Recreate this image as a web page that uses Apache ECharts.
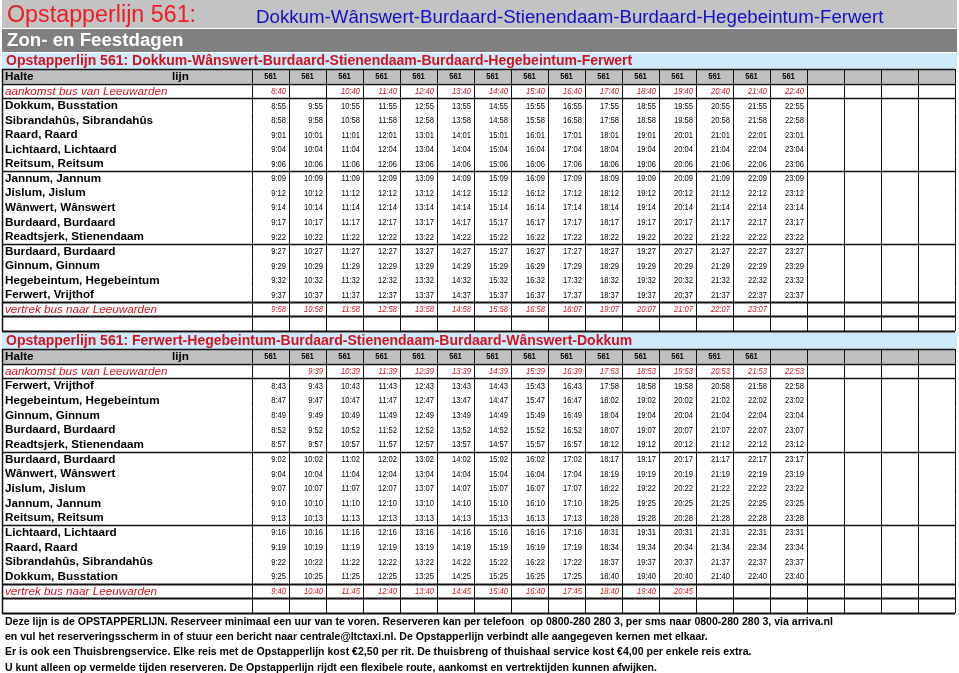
<!DOCTYPE html>
<html><head><meta charset="utf-8">
<script src="https://cdn.jsdelivr.net/npm/echarts@6/dist/echarts.min.js"></script>
<style>html,body{margin:0;padding:0;background:#fff}#c{width:959px;height:673px}</style>
</head><body><div id="c"></div>
<script>
// ---------- texts ----------
const mainTitle = 'Opstapperlijn 561:';
const mainRoute = 'Dokkum-Wânswert-Burdaard-Stienendaam-Burdaard-Hegebeintum-Ferwert';
const dayLabel = 'Zon- en Feestdagen';
const tableATitle = 'Opstapperlijn 561: Dokkum-Wânswert-Burdaard-Stienendaam-Burdaard-Hegebeintum-Ferwert';
const tableBTitle = 'Opstapperlijn 561: Ferwert-Hegebeintum-Burdaard-Stienendaam-Burdaard-Wânswert-Dokkum';
const headHalte = 'Halte';
const headLijn = 'lijn';
const arrivalLabel = 'aankomst bus van Leeuwarden';
const departLabel = 'vertrek bus naar Leeuwarden';
const footerLines = [
  'Deze lijn is de OPSTAPPERLIJN. Reserveer minimaal een uur van te voren. Reserveren kan per telefoon  op 0800-280 280 3, per sms naar 0800-280 280 3, via arriva.nl',
  'en vul het reserveringsscherm in of stuur een bericht naar centrale@ltctaxi.nl. De Opstapperlijn verbindt alle aangegeven kernen met elkaar.',
  'Er is ook een Thuisbrengservice. Elke reis met de Opstapperlijn kost €2,50 per rit. De thuisbreng of thuishaal service kost €4,00 per enkele reis extra.',
  'U kunt alleen op vermelde tijden reserveren. De Opstapperlijn rijdt een flexibele route, aankomst en vertrektijden kunnen afwijken.'
];

// ---------- columns (19 trip slots) ----------
const columnSlots = ['k1','k2','k3','k4','k5','k6','k7','k8','k9','k10','k11','k12','k13','k14','k15','k16','k17','k18','k19'];

// ---------- table A: Dokkum -> Ferwert ----------
const aStops = ['Dokkum, Busstation','Sibrandahûs, Sibrandahûs','Raard, Raard','Lichtaard, Lichtaard','Reitsum, Reitsum','Jannum, Jannum','Jislum, Jislum','Wânwert, Wânswert','Burdaard, Burdaard','Readtsjerk, Stienendaam','Burdaard, Burdaard','Ginnum, Ginnum','Hegebeintum, Hegebeintum','Ferwert, Vrijthof'];
const a_lijn = ['561','561','561','561','561','561','561','561','561','561','561','561','561','561','561'];
const a_aankomst = ['8:40','','10:40','11:40','12:40','13:40','14:40','15:40','16:40','17:40','18:40','19:40','20:40','21:40','22:40'];
const a_dokkum = ['8:55','9:55','10:55','11:55','12:55','13:55','14:55','15:55','16:55','17:55','18:55','19:55','20:55','21:55','22:55'];
const a_sibrandahus = ['8:58','9:58','10:58','11:58','12:58','13:58','14:58','15:58','16:58','17:58','18:58','19:58','20:58','21:58','22:58'];
const a_raard = ['9:01','10:01','11:01','12:01','13:01','14:01','15:01','16:01','17:01','18:01','19:01','20:01','21:01','22:01','23:01'];
const a_lichtaard = ['9:04','10:04','11:04','12:04','13:04','14:04','15:04','16:04','17:04','18:04','19:04','20:04','21:04','22:04','23:04'];
const a_reitsum = ['9:06','10:06','11:06','12:06','13:06','14:06','15:06','16:06','17:06','18:06','19:06','20:06','21:06','22:06','23:06'];
const a_jannum = ['9:09','10:09','11:09','12:09','13:09','14:09','15:09','16:09','17:09','18:09','19:09','20:09','21:09','22:09','23:09'];
const a_jislum = ['9:12','10:12','11:12','12:12','13:12','14:12','15:12','16:12','17:12','18:12','19:12','20:12','21:12','22:12','23:12'];
const a_wanswert = ['9:14','10:14','11:14','12:14','13:14','14:14','15:14','16:14','17:14','18:14','19:14','20:14','21:14','22:14','23:14'];
const a_burdaard1 = ['9:17','10:17','11:17','12:17','13:17','14:17','15:17','16:17','17:17','18:17','19:17','20:17','21:17','22:17','23:17'];
const a_stienendaam = ['9:22','10:22','11:22','12:22','13:22','14:22','15:22','16:22','17:22','18:22','19:22','20:22','21:22','22:22','23:22'];
const a_burdaard2 = ['9:27','10:27','11:27','12:27','13:27','14:27','15:27','16:27','17:27','18:27','19:27','20:27','21:27','22:27','23:27'];
const a_ginnum = ['9:29','10:29','11:29','12:29','13:29','14:29','15:29','16:29','17:29','18:29','19:29','20:29','21:29','22:29','23:29'];
const a_hegebeintum = ['9:32','10:32','11:32','12:32','13:32','14:32','15:32','16:32','17:32','18:32','19:32','20:32','21:32','22:32','23:32'];
const a_ferwert = ['9:37','10:37','11:37','12:37','13:37','14:37','15:37','16:37','17:37','18:37','19:37','20:37','21:37','22:37','23:37'];
const a_vertrek = ['9:58','10:58','11:58','12:58','13:58','14:58','15:58','16:58','18:07','19:07','20:07','21:07','22:07','23:07',''];

// ---------- table B: Ferwert -> Dokkum ----------
const bStops = ['Ferwert, Vrijthof','Hegebeintum, Hegebeintum','Ginnum, Ginnum','Burdaard, Burdaard','Readtsjerk, Stienendaam','Burdaard, Burdaard','Wânwert, Wânswert','Jislum, Jislum','Jannum, Jannum','Reitsum, Reitsum','Lichtaard, Lichtaard','Raard, Raard','Sibrandahûs, Sibrandahûs','Dokkum, Busstation'];
const b_lijn = ['561','561','561','561','561','561','561','561','561','561','561','561','561','561',''];
const b_aankomst = ['','9:39','10:39','11:39','12:39','13:39','14:39','15:39','16:39','17:53','18:53','19:53','20:53','21:53','22:53'];
const b_ferwert = ['8:43','9:43','10:43','11:43','12:43','13:43','14:43','15:43','16:43','17:58','18:58','19:58','20:58','21:58','22:58'];
const b_hegebeintum = ['8:47','9:47','10:47','11:47','12:47','13:47','14:47','15:47','16:47','18:02','19:02','20:02','21:02','22:02','23:02'];
const b_ginnum = ['8:49','9:49','10:49','11:49','12:49','13:49','14:49','15:49','16:49','18:04','19:04','20:04','21:04','22:04','23:04'];
const b_burdaard1 = ['8:52','9:52','10:52','11:52','12:52','13:52','14:52','15:52','16:52','18:07','19:07','20:07','21:07','22:07','23:07'];
const b_stienendaam = ['8:57','9:57','10:57','11:57','12:57','13:57','14:57','15:57','16:57','18:12','19:12','20:12','21:12','22:12','23:12'];
const b_burdaard2 = ['9:02','10:02','11:02','12:02','13:02','14:02','15:02','16:02','17:02','18:17','19:17','20:17','21:17','22:17','23:17'];
const b_wanswert = ['9:04','10:04','11:04','12:04','13:04','14:04','15:04','16:04','17:04','18:19','19:19','20:19','21:19','22:19','23:19'];
const b_jislum = ['9:07','10:07','11:07','12:07','13:07','14:07','15:07','16:07','17:07','18:22','19:22','20:22','21:22','22:22','23:22'];
const b_jannum = ['9:10','10:10','11:10','12:10','13:10','14:10','15:10','16:10','17:10','18:25','19:25','20:25','21:25','22:25','23:25'];
const b_reitsum = ['9:13','10:13','11:13','12:13','13:13','14:13','15:13','16:13','17:13','18:28','19:28','20:28','21:28','22:28','23:28'];
const b_lichtaard = ['9:16','10:16','11:16','12:16','13:16','14:16','15:16','16:16','17:16','18:31','19:31','20:31','21:31','22:31','23:31'];
const b_raard = ['9:19','10:19','11:19','12:19','13:19','14:19','15:19','16:19','17:19','18:34','19:34','20:34','21:34','22:34','23:34'];
const b_sibrandahus = ['9:22','10:22','11:22','12:22','13:22','14:22','15:22','16:22','17:22','18:37','19:37','20:37','21:37','22:37','23:37'];
const b_dokkum = ['9:25','10:25','11:25','12:25','13:25','14:25','15:25','16:25','17:25','18:40','19:40','20:40','21:40','22:40','23:40'];
const b_vertrek = ['9:40','10:40','11:45','12:40','13:40','14:45','15:40','16:40','17:45','18:40','19:40','20:45','','',''];

// rows after which a heavier rule is drawn (structure of both tables)
const groupEnds = [0, 1, 6, 11, 15, 16, 17];

// ---------- build rows ----------
function buildRows(stops, lijn, aank, stopTimes, vert) {
  const rows = [{kind:'head', name:headHalte, times:lijn},
                {kind:'red', name:arrivalLabel, times:aank}];
  stops.forEach((s, i) => rows.push({kind:'stop', name:s, times:stopTimes[i]}));
  rows.push({kind:'red', name:departLabel, times:vert});
  rows.push({kind:'empty', name:'', times:[]});
  return rows;
}
const rowsA = buildRows(aStops, a_lijn, a_aankomst,
  [a_dokkum,a_sibrandahus,a_raard,a_lichtaard,a_reitsum,a_jannum,a_jislum,a_wanswert,a_burdaard1,a_stienendaam,a_burdaard2,a_ginnum,a_hegebeintum,a_ferwert], a_vertrek);
const rowsB = buildRows(bStops, b_lijn, b_aankomst,
  [b_ferwert,b_hegebeintum,b_ginnum,b_burdaard1,b_stienendaam,b_burdaard2,b_wanswert,b_jislum,b_jannum,b_reitsum,b_lichtaard,b_raard,b_sibrandahus,b_dokkum], b_vertrek);

function buildCells(rows) {
  const cells = [];
  rows.forEach((row, r) => {
    cells.push({c:0, r, isName:true, kind:row.kind, text:row.name});
    columnSlots.forEach((_, c) => {
      cells.push({c, r, isName:false, kind:row.kind, text:row.times[c] || ''});
    });
  });
  return cells;
}
const cellsA = buildCells(rowsA);
const cellsB = buildCells(rowsB);

const SANS = '"Liberation Sans",Arial,Helvetica,sans-serif';
const RED = '#d0141e';
const HEADGREY = '#c0c0c0';
const TIME_SCALE = 0.8;
const snap = v => Math.round(v) + 0.5;

function makeRender(cells) {
  return function (params, api) {
    const cell = cells[params.dataIndex];
    const p = api.coord([cell.c, cell.r]);
    const s = api.size([1, 1]);
    const top = p[1] - s[1] / 2, bot = p[1] + s[1] / 2;
    let left = p[0] - s[0] / 2, right = p[0] + s[0] / 2;
    if (cell.isName) { left = 2; right = params.coordSys.x; }
    const ch = [];
    if (cell.kind === 'head') {
      ch.push({type:'rect', shape:{x:left, y:top, width:right-left, height:bot-top}, style:{fill:HEADGREY}});
    }
    const ln = (x1,y1,x2,y2,w) => ch.push({type:'line', shape:{x1,y1,x2,y2}, style:{stroke:'#111', lineWidth:w||1}});
    if (cell.isName) {
      ln(snap(left), top, snap(left), bot, 1.5);
    } else {
      ln(snap(left), top, snap(left), bot, 1);
      ln(snap(right), top, snap(right), bot, 1);
    }
    if (cell.r === 0) ln(left, snap(top), right, snap(top), 1.5);
    if (groupEnds.indexOf(cell.r) >= 0) ln(left, snap(bot), right, snap(bot), cell.r >= 15 ? 2 : 1.5);
    const yMid = p[1] + 0.5;
    const nameText = (txt, x, extra) => ch.push({type:'text', style:Object.assign({text:txt, x:x, y:yMid, align:'left', verticalAlign:'middle', fontSize:11.7, fontFamily:SANS, fill:'#000'}, extra)});
    if (cell.isName) {
      if (cell.kind === 'head') {
        nameText(cell.text, 5, {fontWeight:'bold'});
        nameText(headLijn, 172, {fontWeight:'bold'});
      } else if (cell.kind === 'red') {
        nameText(cell.text, 5, {fontStyle:'italic', fill:RED});
      } else if (cell.kind === 'stop') {
        nameText(cell.text, 5, {fontWeight:'bold'});
      }
    } else if (cell.text) {
      if (cell.kind === 'head') {
        ch.push({type:'text', x:p[0], y:yMid, scaleX:TIME_SCALE, style:{text:cell.text, x:0, y:0, align:'center', verticalAlign:'middle', fontSize:9.5, fontWeight:'bold', fontFamily:SANS, fill:'#000'}});
      } else {
        const red = cell.kind === 'red';
        ch.push({type:'text', x:right-3, y:yMid, scaleX:TIME_SCALE, style:{text:cell.text, x:0, y:0, align:'right', verticalAlign:'middle', fontSize:9.5, fontStyle:red?'italic':'normal', fontFamily:SANS, fill:red?RED:'#000'}});
      }
    }
    return {type:'group', children:ch};
  };
}

const rowIdsA = rowsA.map((_, i) => 'r' + i);
const rowIdsB = rowsB.map((_, i) => 'r' + i);

const chart = echarts.init(document.getElementById('c'), null, {renderer:'canvas'});
chart.setOption({
  animation: false,
  backgroundColor: '#fff',
  grid: [
    {left:252, top:69, width:703, height:262},
    {left:252, top:349, width:703, height:264}
  ],
  xAxis: [
    {type:'category', gridIndex:0, data:columnSlots, show:false},
    {type:'category', gridIndex:1, data:columnSlots, show:false}
  ],
  yAxis: [
    {type:'category', gridIndex:0, data:rowIdsA, inverse:true, show:false},
    {type:'category', gridIndex:1, data:rowIdsB, inverse:true, show:false}
  ],
  graphic: [
    {type:'rect', shape:{x:2, y:0, width:955, height:28}, style:{fill:'#c3c3c3'}, z:0},
    {type:'rect', shape:{x:2, y:29, width:955, height:23}, style:{fill:'#808080'}, z:0},
    {type:'rect', shape:{x:2, y:53, width:955, height:16}, style:{fill:'#cfeafd'}, z:0},
    {type:'rect', shape:{x:2, y:333, width:955, height:16}, style:{fill:'#cfeafd'}, z:0},
    {type:'text', style:{text:mainTitle, x:7, y:16, verticalAlign:'middle', fontSize:23.3, fontFamily:SANS, fill:'#ee1c24'}, z:1},
    {type:'text', style:{text:mainRoute, x:256, y:17.5, verticalAlign:'middle', fontSize:18.7, fontFamily:SANS, fill:'#1010c8'}, z:1},
    {type:'text', style:{text:dayLabel, x:7, y:40.5, verticalAlign:'middle', fontSize:18.7, fontWeight:'bold', fontFamily:SANS, fill:'#fff'}, z:1},
    {type:'text', style:{text:tableATitle, x:6, y:61, verticalAlign:'middle', fontSize:14, fontWeight:'bold', fontFamily:SANS, fill:RED}, z:1},
    {type:'text', style:{text:tableBTitle, x:6, y:341, verticalAlign:'middle', fontSize:14, fontWeight:'bold', fontFamily:SANS, fill:RED}, z:1},
    ...footerLines.map((t, i) => ({type:'text', x:5, y:621.5 + i * 15.3, scaleX:0.91, style:{text:t, x:0, y:0, verticalAlign:'middle', fontSize:11.6, fontWeight:'bold', fontFamily:SANS, fill:'#000'}, z:1}))
  ],
  series: [
    {type:'custom', xAxisIndex:0, yAxisIndex:0, renderItem:makeRender(cellsA), data:cellsA.map(c => [c.c, c.r]), silent:true},
    {type:'custom', xAxisIndex:1, yAxisIndex:1, renderItem:makeRender(cellsB), data:cellsB.map(c => [c.c, c.r]), silent:true}
  ]
});
</script>
</body></html>
